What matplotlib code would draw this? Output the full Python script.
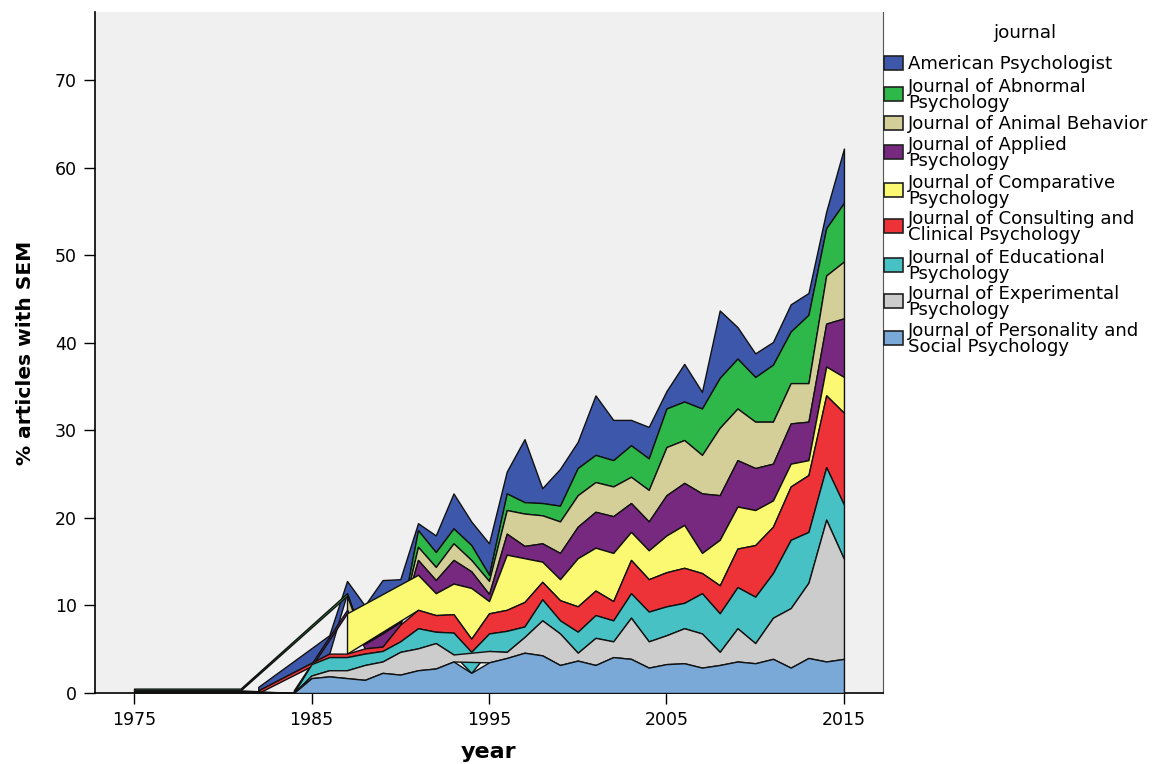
import numpy as np
import matplotlib
matplotlib.use("Agg")
import matplotlib.pyplot as plt
from matplotlib.patches import Rectangle

nan = np.nan
years = list(range(1975, 2016))

# values per journal (percent of articles with SEM), NaN = no data that year
personality = [0.15]*7 + [0, 0, 0, 1.7, 1.9, 1.7, 1.5, 2.3, 2.1, 2.6, 2.8, 3.6, 2.3, 3.5, 4.0,
               4.6, 4.3, 3.2, 3.7, 3.2, 4.1, 3.9, 2.9, 3.3, 3.4, 2.9, 3.2, 3.6, 3.4, 3.9,
               2.9, 4.0, 3.6, 3.9]
experimental = [0.15]*7 + [nan, nan, 0, 0.3, 0.7, 0.9, 1.7, 1.3, 2.6, 2.5, 2.9, 0.8, nan, 1.3,
                0.7, 1.8, 4.0, 3.6, 0.9, 3.1, 1.8, 4.7, 3.0, 3.3, 4.0, 3.9, 1.5, 3.8, 2.3,
                4.7, 6.8, 8.6, 16.2, 11.4]
educational = [nan]*9 + [0, 1.3, 1.5, 1.5, 1.3, 1.2, 1.2, 2.3, 1.3, 2.5, 2.4, 2.0, 2.4, 1.2,
               2.4, 1.5, 2.4, 2.6, 2.4, 2.8, 3.4, 3.3, 2.9, 4.6, 4.4, 4.7, 5.3, 5.1, 7.8,
               5.8, 6.0, 6.2]
consulting = [nan]*7 + [0.3, nan, nan, nan, 0.4, 0.4, 0.6, 0.5, 1.9, 2.1, 1.9, 2.1, 1.5, 2.3,
              2.4, 2.8, 2.0, 2.3, 2.9, 2.8, 2.2, 3.8, 3.7, 3.9, 4.0, 2.3, 3.2, 4.4, 5.9,
              5.3, 6.1, 6.5, 8.2, 10.5]
comparative = [nan]*12 + [4.6, nan, nan, nan, 4.0, 2.5, 3.5, 5.8, 1.4, 6.3, 5.0, 2.3, 2.4, 5.5,
               4.9, 5.5, 3.2, 3.3, 4.2, 4.9, 2.3, 5.2, 4.8, 4.0, 3.0, 2.6, 1.7, 3.3, 4.1]
applied = [nan]*9 + [0.3, nan, nan, 0.4, 0.5, 1.5, 0.3, 1.7, 1.5, 2.7, 1.9, 0.8, 2.4, 1.4,
           2.1, 3.0, 3.6, 4.1, 4.2, 3.3, 3.3, 4.6, 4.8, 6.8, 5.1, 5.3, 4.8, 4.2, 4.6, 4.4,
           4.9, 6.7]
animal = [nan]*12 + [1.6, 0, 0, 0, 1.5, 1.5, 1.9, 1.3, 1.5, 2.7, 3.7, 3.2, 3.6, 3.6, 3.4,
          3.4, 3.0, 3.6, 5.5, 4.9, 4.4, 7.7, 5.9, 5.3, 4.8, 4.6, 4.4, 5.5, 6.5]
abnormal = [0.2]*7 + [nan]*5 + [0.3, 0, 0, 0, 1.9, 1.7, 1.7, 1.7, 0.7, 1.9, 1.3, 1.4, 1.8,
            3.1, 3.1, 3.0, 3.6, 3.6, 4.4, 4.4, 5.3, 5.7, 5.7, 5.1, 6.5, 5.9, 7.8, 5.4, 6.7]
american = [nan]*7 + [0.4, nan, nan, nan, 2.1, 1.4, 4.4, 6.1, 4.9, 0.8, 1.9, 4.0, 2.7, 3.6,
            2.5, 7.2, 1.7, 4.2, 3.0, 6.8, 4.6, 2.9, 3.6, 2.0, 4.3, 1.9, 7.7, 3.6, 2.7, 2.6,
            3.1, 2.5, 1.9, 6.2]

# bottom to top stacking order
journals = ["Journal of Personality and\nSocial Psychology",
            "Journal of Experimental\nPsychology",
            "Journal of Educational\nPsychology",
            "Journal of Consulting and\nClinical Psychology",
            "Journal of Comparative\nPsychology",
            "Journal of Applied\nPsychology",
            "Journal of Animal Behavior",
            "Journal of Abnormal\nPsychology",
            "American Psychologist"]
values = [personality, experimental, educational, consulting, comparative,
          applied, animal, abnormal, american]
colors = ["#7aa9d7", "#cccccc", "#47c1c4", "#ee3338", "#fbf872",
          "#77297f", "#d4cf98", "#2eb84a", "#3d57aa"]

W, H = 1163, 764
fig = plt.figure(figsize=(W / 100, H / 100), dpi=100)
ax = fig.add_axes([95 / W, 1 - 693 / H, (883 - 95) / W, (693 - 12) / H])
ax.set_facecolor("#f0f0f0")

yrs = np.array(years, dtype=float)
arr = [np.array(v, dtype=float) for v in values]
cum = np.zeros(len(yrs))
layers = []
for v in arr:
    m = ~np.isnan(v)
    layers.append((yrs[m], cum[m].copy(), cum[m] + v[m]))
    cum = cum + np.nan_to_num(v)

n = len(layers)
for i in range(n - 1, -1, -1):
    x, lo, hi = layers[i]
    ax.fill_between(x, lo, hi, facecolor=colors[i], edgecolor="#111111",
                    linewidth=1.0, zorder=2 + (n - i))

ax.set_xlim(1972.8, 2017.2)
ax.set_ylim(0, 77.8)
ax.set_xticks([1975, 1985, 1995, 2005, 2015])
ax.set_yticks(range(0, 71, 10))
ax.tick_params(direction="out", length=8, width=1, labelsize=12.5, colors="black")
ax.tick_params(axis="x", pad=5)
ax.tick_params(axis="y", pad=5)
ax.spines["top"].set_visible(False)
ax.spines["right"].set_color("#555555")
ax.spines["left"].set_linewidth(1.2)
ax.spines["bottom"].set_linewidth(1.2)

ax.set_xlabel("year", fontsize=16, fontweight="bold", labelpad=9)
ax.set_ylabel("% articles with SEM", fontsize=14.5, fontweight="bold", labelpad=14)

# legend (top entry first)
fig.text(1025 / W, 1 - 33 / H, "journal", fontsize=13.2, ha="center", va="center")
centers = [63, 94, 123, 152, 190, 226, 265, 301, 338]
for k, i in enumerate(range(n - 1, -1, -1)):
    yc = centers[k]
    fig.patches.append(Rectangle((884 / W, 1 - (yc + 7) / H), 19 / W, 14 / H,
                                 transform=fig.transFigure, facecolor=colors[i],
                                 edgecolor="#222222", linewidth=1.2))
    fig.text(908 / W, 1 - (yc + 1) / H, journals[i], fontsize=13.1, ha="left",
             va="center", linespacing=0.9)

fig.savefig("out.png", dpi=100, facecolor="white")
